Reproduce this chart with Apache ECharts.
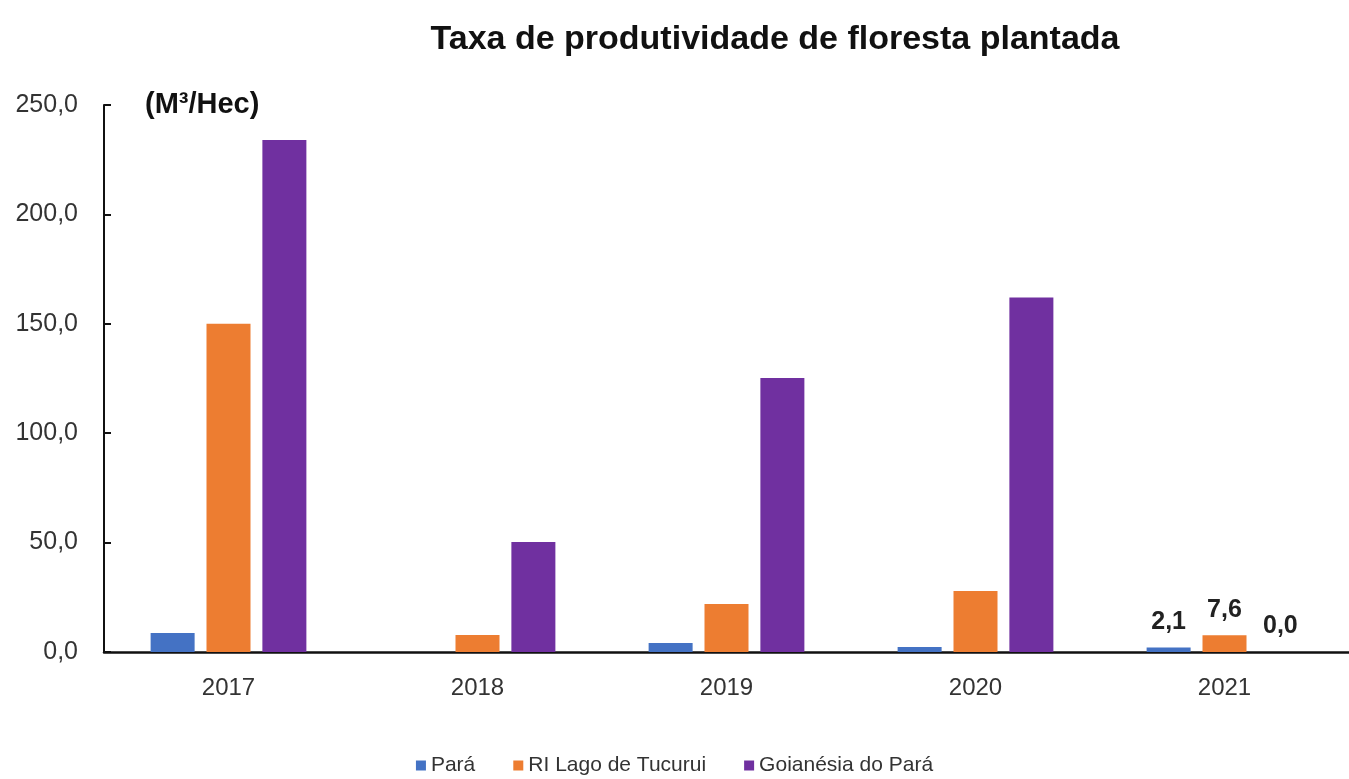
<!DOCTYPE html>
<html>
<head>
<meta charset="utf-8">
<script src="https://cdn.jsdelivr.net/npm/echarts@6/dist/echarts.min.js"></script>
<style>
  html, body { margin: 0; padding: 0; background: #fff; }
  #chart { width: 1349px; height: 779px; }
</style>
</head>
<body>
<div id="chart"></div>
<script>
// dados
const anos = ['2017', '2018', '2019', '2020', '2021'];
const para = [8.7, 0.0, 4.1, 2.3, 2.1];
const riLago = [150.0, 7.8, 21.9, 27.9, 7.6];
const goianesia = [234.0, 50.3, 125.2, 162.0, 0.0];
const yTicks = [0, 50, 100, 150, 200, 250];

const FONT = '"Liberation Sans Narrow", "Arial Narrow", "Liberation Sans", sans-serif';
const fmt = v => v.toFixed(1).replace('.', ',');

// só o último ano leva rótulo
const comRotulo = arr => arr.map((v, i) => ({
  value: v,
  label: { show: i === arr.length - 1 }
}));

const chart = echarts.init(document.getElementById('chart'));

const labelStyle = {
  position: 'top',
  distance: 13,
  fontFamily: FONT,
  fontSize: 25,
  fontWeight: 'bold',
  color: '#222',
  formatter: p => fmt(p.value)
};

const option = {
  animation: false,
  title: {
    text: 'Taxa de produtividade de floresta plantada',
    left: 770,
    textAlign: 'center',
    top: 18,
    textStyle: { fontFamily: FONT, fontSize: 34, fontWeight: 'bold', color: '#111' }
  },
  graphic: [{
    type: 'text',
    left: 145,
    top: 90,
    style: { text: '(M³/Hec)', font: 'bold 29px ' + FONT, fill: '#111' }
  }],
  legend: {
    bottom: -2,
    left: 'center',
    itemWidth: 10,
    itemHeight: 10,
    itemGap: 38,
    icon: 'rect',
    textStyle: { fontFamily: FONT, fontSize: 21, color: '#333' }
  },
  grid: { left: 104, right: 0, top: 105, bottom: 127 },
  xAxis: {
    type: 'category',
    data: anos,
    axisLine: { lineStyle: { color: '#111', width: 2.5 } },
    axisTick: { inside: true, length: 8, lineStyle: { color: '#111', width: 2.5 } },
    axisLabel: { fontFamily: FONT, fontSize: 24, color: '#333', margin: 24 }
  },
  yAxis: {
    type: 'value',
    min: 0,
    max: 250,
    interval: 50,
    axisLine: { show: true, lineStyle: { color: '#111', width: 2 } },
    axisTick: { show: true, inside: true, length: 7, lineStyle: { color: '#111', width: 2 } },
    splitLine: { show: false },
    axisLabel: {
      fontFamily: FONT, fontSize: 25, color: '#333', margin: 26,
      formatter: v => yTicks.includes(v) ? fmt(v) : ''
    }
  },
  series: [
    { name: 'Pará', type: 'bar', data: comRotulo(para), itemStyle: { color: '#4472C4' },
      barWidth: 44, barGap: '27%', label: labelStyle },
    { name: 'RI Lago de Tucurui', type: 'bar', data: comRotulo(riLago), itemStyle: { color: '#ED7D31' },
      barWidth: 44, barGap: '27%', label: labelStyle },
    { name: 'Goianésia do Pará', type: 'bar', data: comRotulo(goianesia), itemStyle: { color: '#7030A0' },
      barWidth: 44, barGap: '27%', label: labelStyle }
  ]
};

chart.setOption(option);
</script>
</body>
</html>
